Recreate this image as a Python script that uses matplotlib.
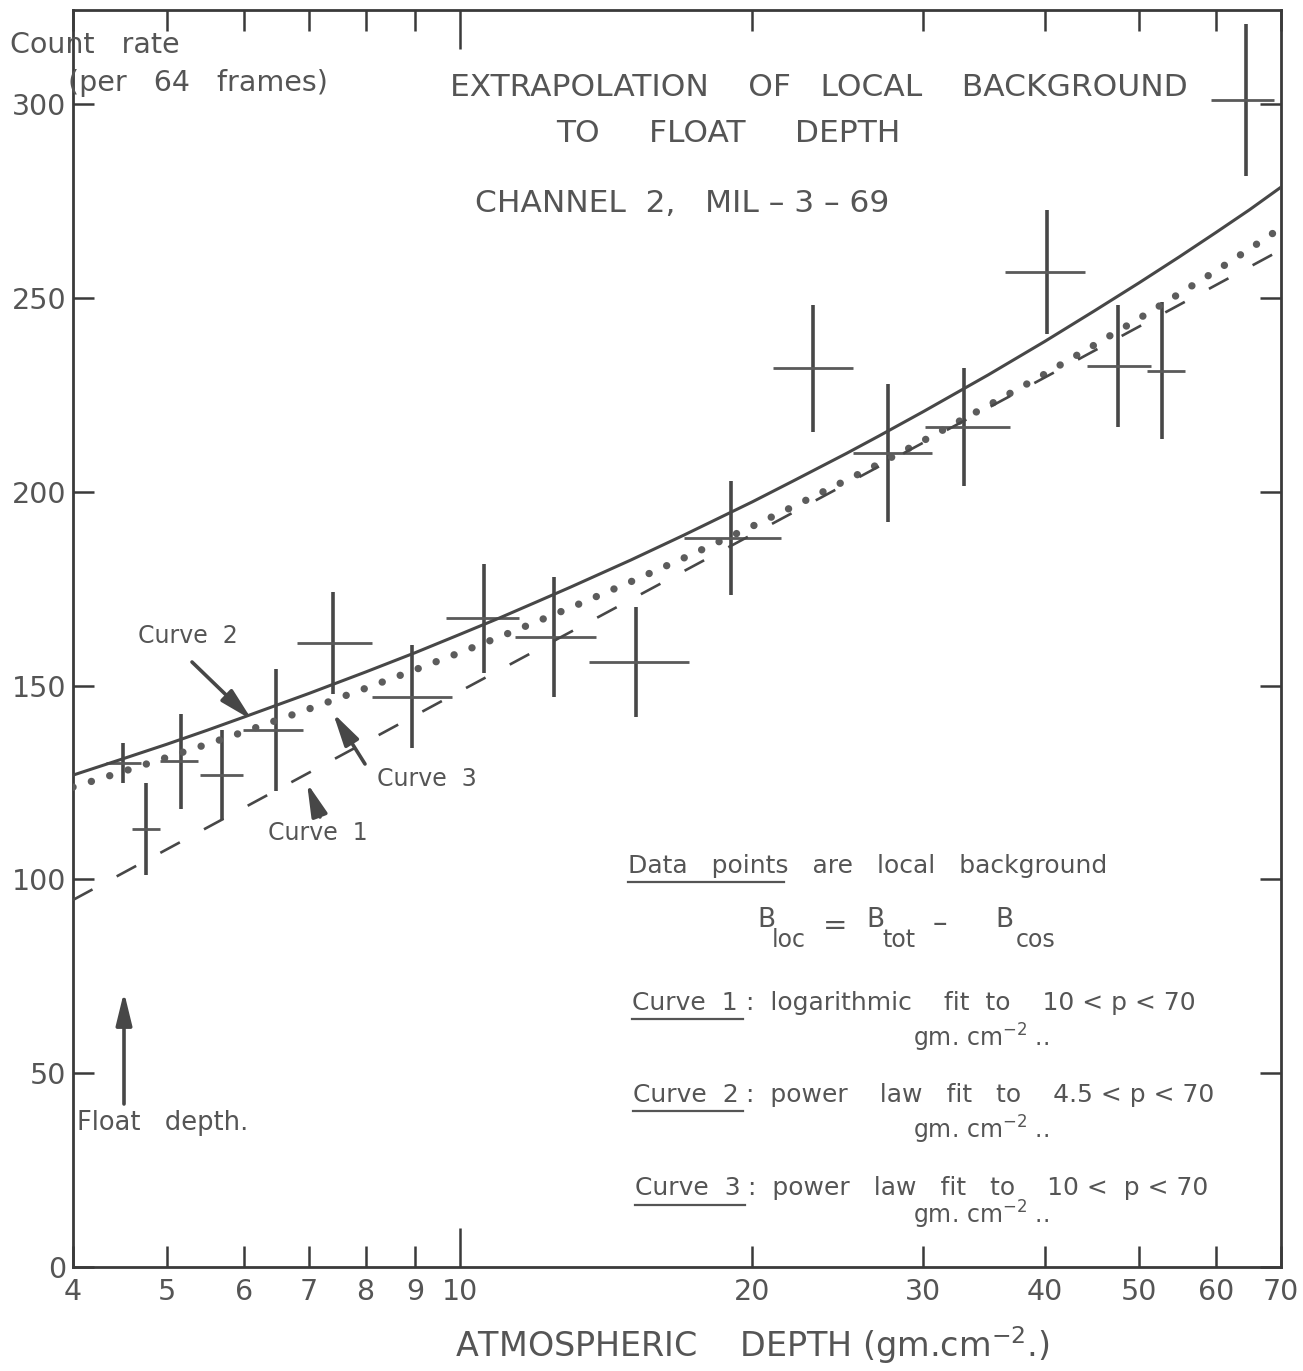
import matplotlib
matplotlib.use("Agg")
import matplotlib.pyplot as plt
from matplotlib.lines import Line2D
from matplotlib.patches import FancyArrowPatch

# ---- data -------------------------------------------------------------
# local background points: depth, count rate, y error, depth bin edges
depth      = [4.50, 4.76, 5.17, 5.70, 6.47, 7.40, 8.94, 10.58, 12.5, 15.2,
              19.0, 23.1, 27.6, 33.0, 40.2, 47.6, 52.8, 64.4]
count_rate = [130.0, 113.0, 130.5, 126.9, 138.5, 161.0, 147.1, 167.4, 162.5, 156.1,
              188.1, 231.9, 210.0, 216.7, 256.7, 232.5, 231.2, 301.1]
count_err  = [5.2, 11.9, 12.3, 11.6, 15.7, 13.2, 13.3, 14.1, 15.5, 14.1,
              14.8, 16.4, 17.8, 15.2, 15.9, 15.7, 17.7, 19.7]
bin_lo     = [4.33, 4.60, 4.92, 5.41, 5.98, 6.80, 8.12, 9.69, 11.4, 13.6,
              17.0, 21.0, 25.4, 30.1, 36.4, 44.2, 50.9, 59.3]
bin_hi     = [4.70, 4.92, 5.38, 5.99, 6.90, 8.12, 9.81, 11.5, 13.8, 17.2,
              21.4, 25.4, 30.6, 36.8, 44.0, 51.5, 55.7, 68.8]

# fitted curves (count rate vs depth)
curve1_x = [4, 10, 20, 40, 70]
curve1_y = [94.7, 148.5, 189.0, 229.5, 262.4]
curve2_x = [4, 4.5, 5, 5.5, 6, 7, 8, 9, 10, 11, 12, 13, 15, 17, 20, 22, 25,
            27, 30, 35, 40, 45, 50, 55, 60, 65, 70]
curve2_y = [126.9, 131.1, 134.9, 138.5, 141.9, 148.0, 153.5, 158.5, 163.2,
            167.5, 171.6, 175.4, 182.4, 188.8, 197.4, 202.7, 209.9, 214.4,
            220.7, 230.2, 238.8, 246.7, 253.9, 260.6, 266.9, 272.8, 278.6]
curve3_x = [4, 4.5, 5, 5.5, 6, 7, 8, 9, 10, 11, 12, 13, 15, 17, 20, 22, 25,
            27, 30, 35, 40, 45, 50, 55, 60, 65, 70]
curve3_y = [123.8, 127.8, 131.5, 134.9, 138.1, 144.0, 149.3, 154.1, 158.5,
            162.6, 166.5, 170.1, 176.8, 182.9, 191.1, 196.1, 203.0, 207.2,
            213.2, 222.3, 230.4, 237.9, 244.7, 251.1, 257.0, 262.7, 268.1]

x_ticks = [4, 5, 6, 7, 8, 9, 10, 20, 30, 40, 50, 60, 70]
y_ticks = [0, 50, 100, 150, 200, 250, 300]

# ---- style --------------------------------------------------------------
INK = "#474747"
TXT = "#555555"
W, H = 1303, 1371
plt.rcParams["font.family"] = ["DejaVu Sans"]

fig = plt.figure(figsize=(W / 100, H / 100), dpi=100)
left_px, right_px, top_px, bot_px = 73, 1281, 10, 1267
ax = fig.add_axes([left_px / W, 1 - bot_px / H,
                   (right_px - left_px) / W, (bot_px - top_px) / H])
ax.set_xscale("log")
ax.set_xlim(4, 70)
ax.set_ylim(0, (bot_px - top_px) / 3.876)

for s in ax.spines.values():
    s.set_color("#3a3a3a")
    s.set_linewidth(2.0)

ax.set_xticks(x_ticks)
ax.set_xticklabels([str(t) for t in x_ticks])
ax.xaxis.set_minor_locator(matplotlib.ticker.NullLocator())
ax.set_yticks(y_ticks)
ax.set_yticklabels([str(t) for t in y_ticks])
ax.tick_params(axis="both", which="major", direction="in", length=15, width=1.8,
               color="#3a3a3a", top=True, right=True, labelsize=20.5,
               labelcolor=TXT)
ax.tick_params(axis="x", pad=8)
ax.tick_params(axis="y", pad=5)
# the decade tick at 10 is drawn longer
for tk, val in zip(ax.xaxis.get_major_ticks(), x_ticks):
    if val == 10:
        tk.tick1line.set_markersize(28)
        tk.tick2line.set_markersize(28)

# ---- data crosses -------------------------------------------------------
ax.vlines(depth, [c - e for c, e in zip(count_rate, count_err)],
          [c + e for c, e in zip(count_rate, count_err)],
          colors=INK, linewidth=2.6, zorder=3)
ax.hlines(count_rate, bin_lo, bin_hi, colors="#5a5a5a", linewidth=2.0, zorder=3)

# ---- fitted curves ------------------------------------------------------
ax.plot(curve2_x, curve2_y, color=INK, linewidth=2.2, zorder=4)
ax.plot(curve3_x, curve3_y, color="#5c5c5c", linewidth=5.3,
        linestyle=(0, (0.01, 2.6)), dash_capstyle="round", zorder=4)
ax.plot(curve1_x, curve1_y, color=INK, linewidth=1.9,
        linestyle=(0, (8.4, 10.4)), zorder=4)


# ---- annotations (pixel positions measured from the top-left) -----------
def ftext(px, py, s, size=18, ha="left", va="center", **kw):
    fig.text(px / W, 1 - py / H, s, fontsize=size, ha=ha, va=va, color=TXT, **kw)


def underline(x0, x1, py):
    fig.add_artist(Line2D([x0 / W, x1 / W], [1 - py / H, 1 - py / H],
                          color=TXT, linewidth=1.6))


def arrow(x0, y0, x1, y1):
    fig.add_artist(FancyArrowPatch(
        (x0 / W, 1 - y0 / H), (x1 / W, 1 - y1 / H), transform=fig.transFigure,
        arrowstyle="-|>,head_length=0.9,head_width=0.22", mutation_scale=22,
        color=INK, linewidth=2.6, shrinkA=0, shrinkB=0))


# axis titles
ftext(10, 45, "Count   rate", size=20.5)
ftext(68, 83, "(per   64   frames)", size=20.5)
ftext(752, 1345, r"ATMOSPHERIC    DEPTH (gm.cm$^{\mathregular{-2}}$.)", size=24,
      ha="center")

# heading
ftext(819, 88, "EXTRAPOLATION    OF   LOCAL    BACKGROUND", size=22.5, ha="center")
ftext(728, 133, "TO     FLOAT     DEPTH", size=22.5, ha="center")
ftext(682, 203, "CHANNEL  2,   MIL – 3 – 69", size=22.5, ha="center")

# curve labels with arrows
ftext(138, 636, "Curve  2", size=17)
arrow(192, 662, 252, 720)
ftext(377, 779, "Curve  3", size=17)
arrow(365, 764, 333, 713)
ftext(268, 833, "Curve  1", size=17)
arrow(320, 817, 307, 783)

# float depth marker
arrow(124, 1104, 124, 992)
ftext(77, 1123, "Float   depth.", size=18.5)

# explanatory notes
ftext(628, 866, "Data   points   are   local   background", size=18)
underline(628, 784, 882)
ftext(757, 920, "B", size=19)
ftext(772, 940, "loc", size=17)
ftext(823, 926, "=", size=21)
ftext(866, 920, "B", size=19)
ftext(882, 940, "tot", size=17)
ftext(933, 924, "–", size=21)
ftext(995, 920, "B", size=19)
ftext(1016, 940, "cos", size=17)

ftext(632, 1003, "Curve  1", size=18)
underline(632, 743, 1019)
ftext(746, 1003, ":  logarithmic    fit  to    10 < p < 70", size=18)
ftext(913, 1038, r"gm. cm$^{\mathregular{-2}}$ ..", size=17)

ftext(633, 1095, "Curve  2", size=18)
underline(633, 743, 1111)
ftext(746, 1095, ":  power    law   fit   to    4.5 < p < 70", size=18)
ftext(913, 1130, r"gm. cm$^{\mathregular{-2}}$ ..", size=17)

ftext(635, 1188, "Curve  3", size=18)
underline(635, 745, 1205)
ftext(748, 1188, ":  power   law   fit   to    10 <  p < 70", size=18)
ftext(913, 1215, r"gm. cm$^{\mathregular{-2}}$ ..", size=17)

fig.savefig("out.png", dpi=100, facecolor="white")
